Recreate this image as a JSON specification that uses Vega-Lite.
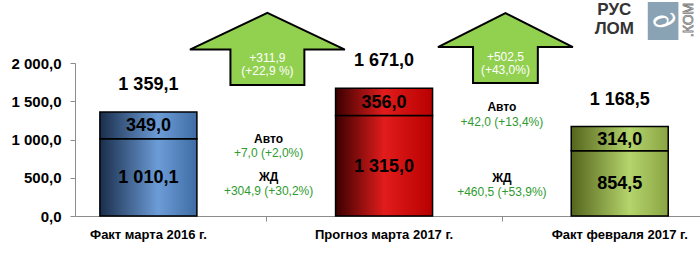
{
  "$schema": "https://vega.github.io/schema/vega-lite/v6.json",
  "width": 625,
  "height": 153,
  "autosize": {"type": "none"},
  "padding": {"left": 75, "top": 63, "right": 0, "bottom": 37},
  "background": "white",
  "config": {
    "view": {"stroke": null},
    "font": "Liberation Sans",
    "locale": {"number": {"decimal": ",", "thousands": " ", "grouping": [3], "currency": ["", ""]}},
    "text": {"font": "Liberation Sans"},
    "axisX": {"labels": false, "title": null, "grid": false, "tickSize": 5, "domainColor": "#8c8c8c", "tickColor": "#8c8c8c"},
    "axisY": {"title": null, "grid": false, "tickSize": 5, "labelPadding": 9, "labelOverlap": false, "labelFlush": false, "labelBound": false,
      "labelFontSize": 15, "labelFontWeight": "bold", "labelColor": "black", "labelFont": "Liberation Sans", "domainColor": "#8c8c8c", "tickColor": "#8c8c8c"}
  },
  "datasets": {
    "bars": [
      {"i": 0, "cat": "Факт марта  2016 г.", "type": "ЖД", "ord": 1, "val": 1010.1},
      {"i": 0, "cat": "Факт марта  2016 г.", "type": "Авто", "ord": 2, "val": 349.0},
      {"i": 1, "cat": "Прогноз марта 2017 г.", "type": "ЖД", "ord": 1, "val": 1315.0},
      {"i": 1, "cat": "Прогноз марта 2017 г.", "type": "Авто", "ord": 2, "val": 356.0},
      {"i": 2, "cat": "Факт февраля 2017 г.", "type": "ЖД", "ord": 1, "val": 854.5},
      {"i": 2, "cat": "Факт февраля 2017 г.", "type": "Авто", "ord": 2, "val": 314.0}
    ],
    "arrows": [
      {"x": 0.505, "y": 2185, "lbl": "+311,9\n(+22,9 %)", "k": "a"},
      {"x": 1.515, "y": 2195, "lbl": "+502,5\n(+43,0%)", "k": "b"}
    ],
    "notes": [
      {"x": 0.51, "y": 1007, "t": "Авто", "kind": "head"},
      {"x": 0.51, "y": 824, "t": "+7,0 (+2,0%)", "kind": "val"},
      {"x": 0.51, "y": 510, "t": "ЖД", "kind": "head"},
      {"x": 0.51, "y": 327, "t": "+304,9 (+30,2%)", "kind": "val"},
      {"x": 1.5, "y": 1425, "t": "Авто", "kind": "head"},
      {"x": 1.5, "y": 1229, "t": "+42,0 (+13,4%)", "kind": "val"},
      {"x": 1.5, "y": 497, "t": "ЖД", "kind": "head"},
      {"x": 1.5, "y": 314, "t": "+460,5 (+53,9%)", "kind": "val"}
    ],
    "logo": [
      {"x": 1.977, "y": 2693, "t": "РУС"},
      {"x": 1.977, "y": 2444, "t": "ЛОМ"}
    ],
    "logobox": [
      {"x": 2.119, "x2": 2.249, "y": 2797, "y2": 2301, "c": 2.184, "m": 2549}
    ],
    "logocom": [
      {"x": 2.294, "y": 2562, "t": ".КОМ"}
    ]
  },
  "data": {"name": "bars"},
  "layer": [
    {
      "transform": [
        {"stack": "val", "groupby": ["i"], "sort": [{"field": "ord"}], "as": ["y0", "y1"]},
        {"filter": "datum.i === 0"}
      ],
      "mark": {"type": "bar", "size": 97, "stroke": "black", "strokeWidth": 1.5,
        "fill": {"gradient": "linear", "x1": 0, "y1": 0, "x2": 1, "y2": 0,
          "stops": [{"offset": 0, "color": "#1a2e4c"}, {"offset": 0.6, "color": "#6c9cd7"}, {"offset": 1, "color": "#3f6ca4"}]}},
      "encoding": {
        "x": {"field": "i", "type": "quantitative", "scale": {"domain": [-0.2902, 2.3194], "zero": false, "nice": false}, "axis": {"values": [0.5, 1.5]}},
        "y": {"field": "y0", "type": "quantitative", "scale": {"domain": [0, 2000], "nice": false}, "axis": {"values": [0, 500, 1000, 1500, 2000], "format": ",.1f"}},
        "y2": {"field": "y1"}
      }
    },
    {
      "transform": [
        {"stack": "val", "groupby": ["i"], "sort": [{"field": "ord"}], "as": ["y0", "y1"]},
        {"filter": "datum.i === 1"}
      ],
      "mark": {"type": "bar", "size": 97, "stroke": "black", "strokeWidth": 1.5,
        "fill": {"gradient": "linear", "x1": 0, "y1": 0, "x2": 1, "y2": 0,
          "stops": [{"offset": 0, "color": "#3a0000"}, {"offset": 0.5, "color": "#e21c1c"}, {"offset": 1, "color": "#b80000"}]}},
      "encoding": {
        "x": {"field": "i", "type": "quantitative", "scale": {"domain": [-0.2902, 2.3194], "zero": false, "nice": false}, "axis": {"values": [0.5, 1.5]}},
        "y": {"field": "y0", "type": "quantitative", "scale": {"domain": [0, 2000], "nice": false}, "axis": {"values": [0, 500, 1000, 1500, 2000], "format": ",.1f"}},
        "y2": {"field": "y1"}
      }
    },
    {
      "transform": [
        {"stack": "val", "groupby": ["i"], "sort": [{"field": "ord"}], "as": ["y0", "y1"]},
        {"filter": "datum.i === 2"}
      ],
      "mark": {"type": "bar", "size": 97, "stroke": "black", "strokeWidth": 1.5,
        "fill": {"gradient": "linear", "x1": 0, "y1": 0, "x2": 1, "y2": 0,
          "stops": [{"offset": 0, "color": "#55651c"}, {"offset": 0.6, "color": "#b4d46c"}, {"offset": 1, "color": "#8aa544"}]}},
      "encoding": {
        "x": {"field": "i", "type": "quantitative", "scale": {"domain": [-0.2902, 2.3194], "zero": false, "nice": false}, "axis": {"values": [0.5, 1.5]}},
        "y": {"field": "y0", "type": "quantitative", "scale": {"domain": [0, 2000], "nice": false}, "axis": {"values": [0, 500, 1000, 1500, 2000], "format": ",.1f"}},
        "y2": {"field": "y1"}
      }
    },
    {
      "transform": [
        {"stack": "val", "groupby": ["i"], "sort": [{"field": "ord"}], "as": ["y0", "y1"]},
        {"calculate": "(datum.y0 + datum.y1) / 2", "as": "mid"}
      ],
      "mark": {"type": "text", "fontSize": 18, "fontWeight": "bold", "color": "black", "baseline": "middle", "dy": 1},
      "encoding": {
        "x": {"field": "i", "type": "quantitative", "scale": {"domain": [-0.2902, 2.3194], "zero": false, "nice": false}, "axis": {"values": [0.5, 1.5]}},
        "y": {"field": "mid", "type": "quantitative", "scale": {"domain": [0, 2000], "nice": false}, "axis": {"values": [0, 500, 1000, 1500, 2000], "format": ",.1f"}},
        "text": {"field": "val", "type": "quantitative", "format": ",.1f"}
      }
    },
    {
      "mark": {"type": "text", "fontSize": 18, "fontWeight": "bold", "color": "black", "baseline": "middle", "dy": -27},
      "encoding": {
        "x": {"field": "i", "type": "quantitative", "scale": {"domain": [-0.2902, 2.3194], "zero": false, "nice": false}, "axis": {"values": [0.5, 1.5]}},
        "y": {"aggregate": "sum", "field": "val", "type": "quantitative", "scale": {"domain": [0, 2000], "nice": false}, "axis": {"values": [0, 500, 1000, 1500, 2000], "format": ",.1f"}},
        "text": {"aggregate": "sum", "field": "val", "type": "quantitative", "format": ",.1f"}
      }
    },
    {
      "transform": [{"filter": "datum.ord === 1"}],
      "mark": {"type": "text", "fontSize": 13, "fontWeight": "bold", "color": "black", "baseline": "middle", "dy": 19},
      "encoding": {
        "x": {"field": "i", "type": "quantitative", "scale": {"domain": [-0.2902, 2.3194], "zero": false, "nice": false}, "axis": {"values": [0.5, 1.5]}},
        "y": {"datum": 0, "type": "quantitative", "scale": {"domain": [0, 2000], "nice": false}, "axis": {"values": [0, 500, 1000, 1500, 2000], "format": ",.1f"}},
        "text": {"field": "cat", "type": "nominal"}
      }
    },
    {
      "data": {"name": "arrows"},
      "transform": [{"filter": "datum.k === 'a'"}],
      "mark": {"type": "point", "filled": true, "fill": "#92d050", "fillOpacity": 1, "stroke": "black", "strokeWidth": 2, "opacity": 1,
        "size": 24025, "shape": "M0,-0.465L1,0.01L0.477,0.01L0.477,0.465L-0.477,0.465L-0.477,0.01L-1,0.01Z"},
      "encoding": {
        "x": {"field": "x", "type": "quantitative", "scale": {"domain": [-0.2902, 2.3194], "zero": false, "nice": false}, "axis": {"values": [0.5, 1.5]}},
        "y": {"field": "y", "type": "quantitative", "scale": {"domain": [0, 2000], "nice": false}, "axis": {"values": [0, 500, 1000, 1500, 2000], "format": ",.1f"}}
      }
    },
    {
      "data": {"name": "arrows"},
      "transform": [{"filter": "datum.k === 'b'"}],
      "mark": {"type": "point", "filled": true, "fill": "#92d050", "fillOpacity": 1, "stroke": "black", "strokeWidth": 2, "opacity": 1,
        "size": 18225, "shape": "M0,-0.519L1,-0.015L0.48,-0.015L0.48,0.519L-0.48,0.519L-0.48,-0.015L-1,-0.015Z"},
      "encoding": {
        "x": {"field": "x", "type": "quantitative", "scale": {"domain": [-0.2902, 2.3194], "zero": false, "nice": false}, "axis": {"values": [0.5, 1.5]}},
        "y": {"field": "y", "type": "quantitative", "scale": {"domain": [0, 2000], "nice": false}, "axis": {"values": [0, 500, 1000, 1500, 2000], "format": ",.1f"}}
      }
    },
    {
      "data": {"name": "arrows"},
      "mark": {"type": "text", "fontSize": 12, "color": "white", "baseline": "middle", "lineBreak": "\n", "lineHeight": 13, "dy": 9},
      "encoding": {
        "x": {"field": "x", "type": "quantitative", "scale": {"domain": [-0.2902, 2.3194], "zero": false, "nice": false}, "axis": {"values": [0.5, 1.5]}},
        "y": {"field": "y", "type": "quantitative", "scale": {"domain": [0, 2000], "nice": false}, "axis": {"values": [0, 500, 1000, 1500, 2000], "format": ",.1f"}},
        "text": {"field": "lbl", "type": "nominal"}
      }
    },
    {
      "data": {"name": "notes"},
      "transform": [{"filter": "datum.kind === 'head'"}],
      "mark": {"type": "text", "fontSize": 12, "fontWeight": "bold", "color": "black", "baseline": "middle"},
      "encoding": {
        "x": {"field": "x", "type": "quantitative", "scale": {"domain": [-0.2902, 2.3194], "zero": false, "nice": false}, "axis": {"values": [0.5, 1.5]}},
        "y": {"field": "y", "type": "quantitative", "scale": {"domain": [0, 2000], "nice": false}, "axis": {"values": [0, 500, 1000, 1500, 2000], "format": ",.1f"}},
        "text": {"field": "t", "type": "nominal"}
      }
    },
    {
      "data": {"name": "notes"},
      "transform": [{"filter": "datum.kind === 'val'"}],
      "mark": {"type": "text", "fontSize": 12, "color": "#2f9a2f", "baseline": "middle"},
      "encoding": {
        "x": {"field": "x", "type": "quantitative", "scale": {"domain": [-0.2902, 2.3194], "zero": false, "nice": false}, "axis": {"values": [0.5, 1.5]}},
        "y": {"field": "y", "type": "quantitative", "scale": {"domain": [0, 2000], "nice": false}, "axis": {"values": [0, 500, 1000, 1500, 2000], "format": ",.1f"}},
        "text": {"field": "t", "type": "nominal"}
      }
    },
    {
      "data": {"name": "logobox"},
      "mark": {"type": "rect", "fill": "#8aa3b4"},
      "encoding": {
        "x": {"field": "x", "type": "quantitative", "scale": {"domain": [-0.2902, 2.3194], "zero": false, "nice": false}, "axis": {"values": [0.5, 1.5]}},
        "x2": {"field": "x2"},
        "y": {"field": "y", "type": "quantitative", "scale": {"domain": [0, 2000], "nice": false}, "axis": {"values": [0, 500, 1000, 1500, 2000], "format": ",.1f"}},
        "y2": {"field": "y2"}
      }
    },
    {
      "data": {"name": "logobox"},
      "mark": {"type": "text", "text": "∂", "fontSize": 30, "color": "white", "baseline": "middle", "angle": 60},
      "encoding": {
        "x": {"field": "c", "type": "quantitative", "scale": {"domain": [-0.2902, 2.3194], "zero": false, "nice": false}, "axis": {"values": [0.5, 1.5]}},
        "y": {"field": "m", "type": "quantitative", "scale": {"domain": [0, 2000], "nice": false}, "axis": {"values": [0, 500, 1000, 1500, 2000], "format": ",.1f"}}
      }
    },
    {
      "data": {"name": "logo"},
      "mark": {"type": "text", "fontSize": 17, "fontWeight": "bold", "color": "#333333", "baseline": "middle", "letterSpacing": -1},
      "encoding": {
        "x": {"field": "x", "type": "quantitative", "scale": {"domain": [-0.2902, 2.3194], "zero": false, "nice": false}, "axis": {"values": [0.5, 1.5]}},
        "y": {"field": "y", "type": "quantitative", "scale": {"domain": [0, 2000], "nice": false}, "axis": {"values": [0, 500, 1000, 1500, 2000], "format": ",.1f"}},
        "text": {"field": "t", "type": "nominal"}
      }
    },
    {
      "data": {"name": "logocom"},
      "mark": {"type": "text", "fontSize": 14, "color": "white", "stroke": "#7a7a7a", "strokeWidth": 0.8, "baseline": "middle", "angle": 270},
      "encoding": {
        "x": {"field": "x", "type": "quantitative", "scale": {"domain": [-0.2902, 2.3194], "zero": false, "nice": false}, "axis": {"values": [0.5, 1.5]}},
        "y": {"field": "y", "type": "quantitative", "scale": {"domain": [0, 2000], "nice": false}, "axis": {"values": [0, 500, 1000, 1500, 2000], "format": ",.1f"}},
        "text": {"field": "t", "type": "nominal"}
      }
    }
  ]
}
